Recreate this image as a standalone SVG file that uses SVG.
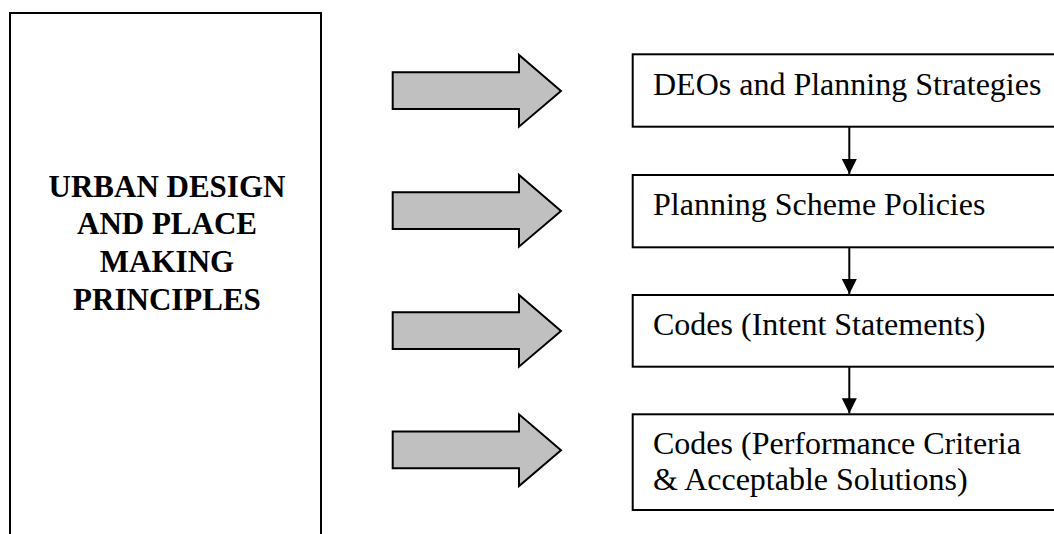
<svg xmlns="http://www.w3.org/2000/svg" width="1054" height="534" viewBox="0 0 1054 534">
  <style>
    .box { fill: #ffffff; stroke: #000000; stroke-width: 2; }
    .block { fill: #c0c0c0; stroke: #000000; stroke-width: 2; stroke-linejoin: miter; }
    .label { font-family: "Liberation Serif", "Times New Roman", serif; font-size: 32px; fill: #000000; }
    .title { font-family: "Liberation Serif", "Times New Roman", serif; font-size: 31px; font-weight: bold; fill: #000000; text-anchor: middle; }
    .link { stroke: #000000; stroke-width: 2; fill: none; }
  </style>
  <defs>
    <path id="blockArrow" d="M392.7,17.3 H519 V0 L561,36 L519,71.7 V54 H392.7 Z"/>
    <marker id="head" markerUnits="userSpaceOnUse" markerWidth="16" markerHeight="16" refX="15" refY="8" orient="auto">
      <path d="M0,0.5 L15,8 L0,15.5 Z" fill="#000000"/>
    </marker>
  </defs>

  <rect width="1054" height="534" fill="#ffffff"/>

  <g id="principles">
    <rect class="box" x="10" y="13" width="311" height="540"/>
    <text class="title" x="167" y="197">URBAN DESIGN</text>
    <text class="title" x="167" y="234">AND PLACE</text>
    <text class="title" x="167" y="272">MAKING</text>
    <text class="title" x="167" y="310">PRINCIPLES</text>
  </g>

  <g id="block-arrows">
    <use href="#blockArrow" class="block" y="55"/>
    <use href="#blockArrow" class="block" y="175"/>
    <use href="#blockArrow" class="block" y="295"/>
    <use href="#blockArrow" class="block" y="414.3"/>
  </g>

  <g id="deos">
    <rect class="box" x="632.7" y="54.3" width="440" height="72.4"/>
    <text class="label" x="653" y="95">DEOs and Planning Strategies</text>
  </g>

  <g id="scheme-policies">
    <rect class="box" x="632.7" y="175" width="440" height="72.3"/>
    <text class="label" x="653" y="215">Planning Scheme Policies</text>
  </g>

  <g id="intent">
    <rect class="box" x="632.7" y="295" width="440" height="71.7"/>
    <text class="label" x="653" y="335">Codes (Intent Statements)</text>
  </g>

  <g id="performance">
    <rect class="box" x="632.7" y="414.3" width="440" height="95.7"/>
    <text class="label" x="653" y="454">Codes (Performance Criteria</text>
    <text class="label" x="653" y="490">&amp; Acceptable Solutions)</text>
  </g>

  <g id="connectors">
    <line class="link" x1="849.3" y1="126.7" x2="849.3" y2="174" marker-end="url(#head)"/>
    <line class="link" x1="849.3" y1="247.3" x2="849.3" y2="294" marker-end="url(#head)"/>
    <line class="link" x1="849.3" y1="366.7" x2="849.3" y2="413.3" marker-end="url(#head)"/>
  </g>
</svg>
